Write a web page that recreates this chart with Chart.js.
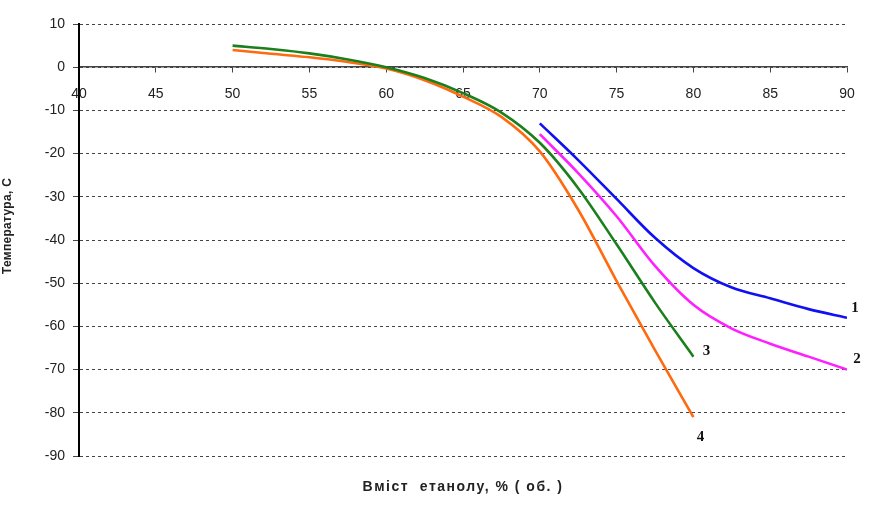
<!DOCTYPE html>
<html>
<head>
<meta charset="utf-8">
<script src="https://cdn.jsdelivr.net/npm/chart.js@4"></script>
<style>
  html, body { margin: 0; padding: 0; background: #fff; }
  #wrap { width: 881px; height: 509px; }
</style>
</head>
<body>
<div id="wrap"><canvas id="freezeChart" width="881" height="509"></canvas></div>
<script>
// ethanol content, % vol.
const xLow = [50, 52.5, 55, 57.5, 60, 62.5, 65, 67.5, 70, 72.5, 75, 77.5, 80];
const xHigh = [70, 72.5, 75, 77.5, 80, 82.5, 85, 87.5, 90];

// temperature, C
const curve1 = [-13, -21.5, -30.5, -39.5, -46.5, -51, -53.5, -56, -58];
const curve2 = [-15.5, -24.5, -34.5, -46, -55, -60.5, -64, -67, -70];
const curve3 = [5, 4.2, 3.2, 1.8, 0, -2.5, -6, -10.5, -17.5, -28, -41, -54.5, -67];
const curve4 = [4, 3.1, 2.3, 1.2, -0.3, -3, -6.8, -11.5, -19.5, -33, -49.5, -65.5, -81];

const curveNames = ['1', '2', '3', '4'];
const xTicks = [40, 45, 50, 55, 60, 65, 70, 75, 80, 85, 90];

function pts(xs, ys) {
    return xs.map((x, i) => ({ x: x, y: ys[i] }));
}

function line(name, xs, ys, color) {
    return {
        label: name,
        data: pts(xs, ys),
        borderColor: color,
        borderWidth: 2.6,
        pointRadius: 0,
        cubicInterpolationMode: 'monotone',
        fill: false
    };
}

// number labels at the end of each curve, plus both axis titles
const curveLabels = {
    id: 'curveLabels',
    afterDatasetsDraw(chart) {
        const ctx = chart.ctx;
        const shift = [[8, -10], [10, -10], [13, -6], [7, 20]];
        ctx.save();
        ctx.font = 'bold 15px "Liberation Serif"';
        ctx.fillStyle = '#111';
        ctx.textAlign = 'center';
        ctx.textBaseline = 'middle';
        chart.data.datasets.forEach((ds, i) => {
            const meta = chart.getDatasetMeta(i);
            const last = meta.data[meta.data.length - 1];
            ctx.fillText(ds.label, last.x + shift[i][0], last.y + shift[i][1]);
        });

        const area = chart.chartArea;
        ctx.fillStyle = '#222';
        ctx.font = 'bold 14px "Liberation Sans"';
        ctx.letterSpacing = '1.5px';
        ctx.fillText('Вміст  етанолу, % ( об. )', (area.left + area.right) / 2, 487);

        ctx.letterSpacing = '0.3px';
        ctx.font = 'bold 12px "Liberation Sans"';
        ctx.translate(8, 226);
        ctx.rotate(-Math.PI / 2);
        ctx.fillText('Температура, С', 0, 0);
        ctx.restore();
    }
};

const ctx = document.getElementById('freezeChart').getContext('2d');
new Chart(ctx, {
    type: 'line',
    data: {
        datasets: [
            line(curveNames[0], xHigh, curve1, '#1010f0'),
            line(curveNames[1], xHigh, curve2, '#ff20ff'),
            line(curveNames[2], xLow, curve3, '#1b7f1b'),
            line(curveNames[3], xLow, curve4, '#ff6a10')
        ]
    },
    options: {
        responsive: false,
        animation: false,
        layout: { padding: { left: 0, top: 24, right: 34, bottom: 53 } },
        plugins: {
            legend: { display: false },
            tooltip: { enabled: false }
        },
        scales: {
            x: {
                type: 'linear',
                position: { y: 0 },
                min: 40,
                max: 90,
                afterBuildTicks(scale) {
                    scale.ticks = xTicks.map(v => ({ value: v }));
                },
                grid: { drawOnChartArea: false, drawTicks: true, tickLength: 5, color: '#444' },
                border: { color: '#444', width: 1.5 },
                ticks: {
                    padding: 14,
                    color: '#222',
                    font: { family: 'Liberation Sans', size: 14 },
                    maxRotation: 0
                }
            },
            y: {
                min: -90,
                max: 10,
                afterFit(scale) { scale.width = 79; },
                ticks: {
                    stepSize: 10,
                    padding: 8,
                    color: '#222',
                    font: { family: 'Liberation Sans', size: 14 }
                },
                grid: {
                    color: '#444',
                    lineWidth: 1,
                    tickLength: 6
                },
                border: { color: '#000', width: 2, dash: [3, 3] }
            }
        }
    },
    plugins: [curveLabels]
});
</script>
</body>
</html>
